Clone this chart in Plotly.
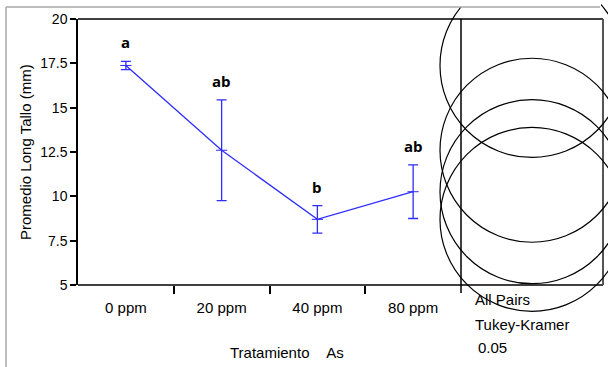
import plotly.graph_objects as go

categories = ["0 ppm", "20 ppm", "40 ppm", "80 ppm"]
means = [17.38, 12.60, 8.70, 10.26]
errors = [0.23, 2.84, 0.78, 1.51]
letters = ["a", "ab", "b", "ab"]
y_ticks = [5, 7.5, 10, 12.5, 15, 17.5, 20]
y_tick_labels = ["5", "7.5", "10", "12.5", "15", "17.5", "20"]
method_lines = ["All Pairs", "Tukey-Kramer", "0.05"]

W, H = 608, 367
L, R, T, B = 78, 5, 19, 82
pw, ph = W - L - R, H - T - B
sep = (461 - L) / pw

def px_x(p):
    return (p - L) / pw

def px_y(p):
    return (H - B - p) / ph

BLUE = "rgb(45,45,255)"
FONT = "Arial, Liberation Sans, sans-serif"
xs = list(range(len(categories)))

fig = go.Figure()
fig.add_trace(go.Scatter(
    x=xs, y=means, mode="lines+markers",
    line=dict(color=BLUE, width=1.3),
    marker=dict(symbol="line-ew-open", size=8, color=BLUE, line=dict(color=BLUE, width=1)),
    error_y=dict(type="data", array=errors, color=BLUE, thickness=1.3, width=5),
    showlegend=False, hoverinfo="skip",
))
# comparison circles
fig.add_trace(go.Scatter(
    x=[0] * len(means), y=means, xaxis="x2", yaxis="y", mode="markers",
    marker=dict(symbol="circle-open", size=184, color="black", line=dict(color="black", width=1.2)),
    cliponaxis=False, showlegend=False, hoverinfo="skip",
))

annotations = []
for i, (m, e, lt) in enumerate(zip(means, errors, letters)):
    annotations.append(dict(x=i, y=m + e, xref="x", yref="y", text=f"<b>{lt}</b>",
                            showarrow=False, yanchor="bottom", yshift=7,
                            font=dict(family="Open Sans", size=15, color="black")))
for txt, xp, yp in zip(method_lines, [473, 473, 476], [299, 324, 347]):
    annotations.append(dict(x=px_x(xp), y=px_y(yp), xref="paper", yref="paper", text=txt,
                            showarrow=False, xanchor="left", yanchor="middle",
                            font=dict(family=FONT, size=15, color="black")))
annotations.append(dict(x=px_x(287), y=px_y(352), xref="paper", yref="paper",
                        text="Tratamiento\u00a0\u00a0\u00a0\u00a0As", showarrow=False,
                        xanchor="center", yanchor="middle",
                        font=dict(family=FONT, size=15, color="black")))
annotations.append(dict(x=px_x(25), y=px_y(152), xref="paper", yref="paper",
                        text="Promedio Long Tallo (mm)", showarrow=False, textangle=-90,
                        xanchor="center", yanchor="middle",
                        font=dict(family=FONT, size=15, color="black")))

shapes = [
    # white mask above outer frame
    dict(type="rect", xref="paper", yref="paper", x0=px_x(-5), x1=px_x(601), y0=px_y(7), y1=px_y(-5),
         fillcolor="white", line=dict(width=0), layer="above"),
    # outer gray frame
    dict(type="line", xref="paper", yref="paper", x0=px_x(6), x1=px_x(600), y0=px_y(7), y1=px_y(7),
         line=dict(color="#a8a8a8", width=1.5), layer="above"),
    dict(type="line", xref="paper", yref="paper", x0=px_x(6), x1=px_x(6), y0=px_y(7), y1=px_y(H + 5),
         line=dict(color="#a8a8a8", width=1.5), layer="above"),
    # plot frame
    dict(type="line", xref="paper", yref="paper", x0=0, x1=1, y0=1, y1=1,
         line=dict(color="black", width=1.5), layer="below"),
    dict(type="line", xref="paper", yref="paper", x0=0, x1=1, y0=0, y1=0,
         line=dict(color="black", width=1.5), layer="below"),
    dict(type="line", xref="paper", yref="paper", x0=sep, x1=sep, y0=px_y(293), y1=1,
         line=dict(color="black", width=1.5), layer="below"),
    dict(type="line", xref="paper", yref="paper", x0=1, x1=1, y0=0, y1=1,
         line=dict(color="#555555", width=2), layer="below"),
]

half = (1 - sep) * pw / (ph / 15) / 2

fig.update_layout(
    width=W, height=H, margin=dict(l=L, r=R, t=T, b=B),
    paper_bgcolor="white", plot_bgcolor="white",
    xaxis=dict(domain=[0, sep], range=[-0.5, len(categories) - 0.5], tickmode="array",
               tickvals=xs, ticktext=categories, ticks="", showgrid=False, zeroline=False,
               showline=False, tickfont=dict(family=FONT, size=15, color="black"),
               ticklabelstandoff=12,
               minor=dict(tickmode="array", tickvals=[0.5, 1.5, 2.5], ticks="outside", ticklen=8,
                          tickwidth=1.5, tickcolor="black", showgrid=False)),
    xaxis2=dict(domain=[sep, 1], range=[-half, half], anchor="y", showticklabels=False,
                ticks="", showgrid=False, zeroline=False, showline=False),
    yaxis=dict(range=[5, 20], tickmode="array", tickvals=y_ticks, ticktext=y_tick_labels,
               ticks="outside", ticklen=6, tickwidth=1.5, tickcolor="black",
               showline=True, linecolor="black", linewidth=1.5, showgrid=False, zeroline=False,
               tickfont=dict(family=FONT, size=14, color="black")),
    annotations=annotations, shapes=shapes,
)

fig.write_html("out.html")
